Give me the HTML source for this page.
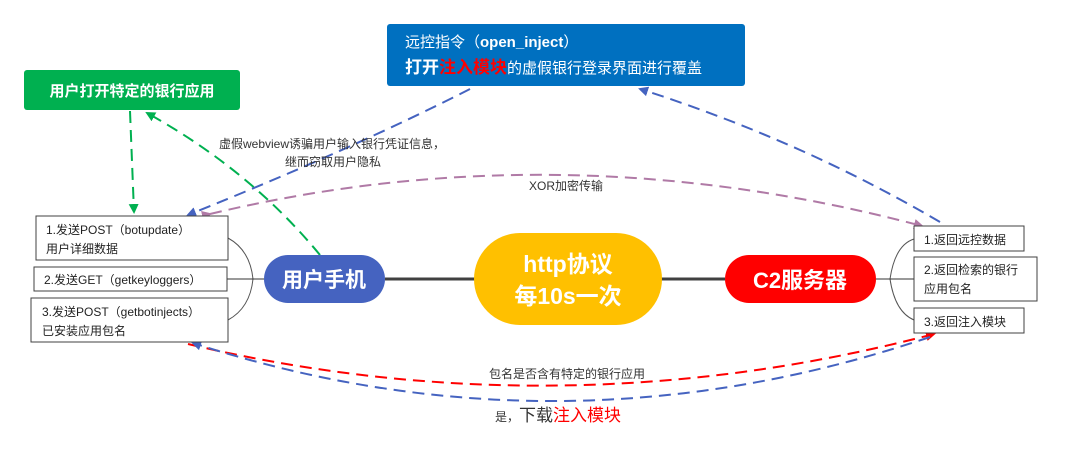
<!DOCTYPE html>
<html><head><meta charset="utf-8"><style>
body{margin:0;width:1072px;height:449px;background:#fff;overflow:hidden;font-family:"Liberation Sans","Noto Sans CJK SC",sans-serif}
</style></head><body>
<svg width="1072" height="449" xmlns="http://www.w3.org/2000/svg" font-family="Liberation Sans, Noto Sans CJK SC, sans-serif">
<defs>
<marker id="ag" markerWidth="10" markerHeight="10" refX="8" refY="5" orient="auto" markerUnits="userSpaceOnUse"><path d="M0,0 L10,5 L0,10 z" fill="#00b050"/></marker>
<marker id="ab" markerWidth="10" markerHeight="10" refX="8" refY="5" orient="auto" markerUnits="userSpaceOnUse"><path d="M0,0 L10,5 L0,10 z" fill="#4563c0"/></marker>
<marker id="ap" markerWidth="10" markerHeight="10" refX="8" refY="5" orient="auto" markerUnits="userSpaceOnUse"><path d="M0,0 L10,5 L0,10 z" fill="#b07aa6"/></marker>
<marker id="ar" markerWidth="10" markerHeight="10" refX="8" refY="5" orient="auto" markerUnits="userSpaceOnUse"><path d="M0,0 L10,5 L0,10 z" fill="#ff0000"/></marker>
</defs>
<line x1="385" y1="279" x2="725" y2="279" stroke="#404040" stroke-width="3"/>
<path d="M228,238 Q250,250 253,279 Q250,308 228,320" fill="none" stroke="#555" stroke-width="1"/>
<line x1="227" y1="279" x2="264" y2="279" stroke="#333" stroke-width="1"/>
<path d="M914,239 Q895,245 890,279 Q895,312 914,320" fill="none" stroke="#555" stroke-width="1"/>
<line x1="876" y1="279" x2="914" y2="279" stroke="#333" stroke-width="1"/>
<g fill="none" stroke-width="2" stroke-dasharray="12,7">
<path d="M130,111 L134,212" stroke="#00b050" marker-end="url(#ag)"/>
<path d="M320,255 Q250,170 147,113" stroke="#00b050" marker-end="url(#ag)"/>
<path d="M470,89 Q350,150 188,215" stroke="#4563c0" marker-end="url(#ab)"/>
<path d="M940,222 Q800,140 640,89" stroke="#4563c0" marker-end="url(#ab)"/>
<path d="M210,214 Q560,130 922,226" stroke="#b07aa6" marker-end="url(#ap)" marker-start="url(#ap)"/>
<path d="M188,344 Q560,432 934,334" stroke="#ff0000" marker-end="url(#ar)"/>
<path d="M930,337 Q560,462 193,343" stroke="#4563c0" marker-end="url(#ab)"/>
</g>
<rect x="24" y="70" width="216" height="40" rx="3" fill="#00b050"/>
<text x="132" y="96" font-size="15" font-weight="bold" fill="#fff" text-anchor="middle">用户打开特定的银行应用</text>
<rect x="387" y="24" width="358" height="62" rx="3" fill="#0070c0"/>
<text x="405" y="47" font-size="15" fill="#fff">远控指令（<tspan font-weight="bold">open_inject</tspan>）</text>
<text x="405" y="73" font-size="17" font-weight="bold" fill="#fff">打开<tspan fill="#ff0000">注入模块</tspan><tspan font-weight="normal" font-size="15">的虚假银行登录界面进行覆盖</tspan></text>
<text x="332" y="148" font-size="12" fill="#333" text-anchor="middle">虚假webview诱骗用户输入银行凭证信息，</text>
<text x="333" y="166" font-size="12" fill="#333" text-anchor="middle">继而窃取用户隐私</text>
<text x="566" y="190" font-size="12" fill="#333" text-anchor="middle">XOR加密传输</text>
<text x="567" y="378" font-size="12" fill="#333" text-anchor="middle">包名是否含有特定的银行应用</text>
<text x="495" y="421" font-size="12" fill="#333">是，<tspan font-size="17">下载</tspan><tspan font-size="17" fill="#ff0000">注入模块</tspan></text>
<g fill="#fff" stroke="#404040" stroke-width="1">
<rect x="36" y="216" width="192" height="44"/>
<rect x="34" y="267" width="193" height="24"/>
<rect x="31" y="298" width="197" height="44"/>
<rect x="914" y="226" width="110" height="25"/>
<rect x="914" y="257" width="123" height="44"/>
<rect x="914" y="308" width="110" height="25"/>
</g>
<g font-size="12" fill="#222">
<text x="46" y="234">1.发送POST（botupdate）</text>
<text x="46" y="253">用户详细数据</text>
<text x="44" y="284">2.发送GET（getkeyloggers）</text>
<text x="42" y="316">3.发送POST（getbotinjects）</text>
<text x="42" y="335">已安装应用包名</text>
<text x="924" y="244">1.返回远控数据</text>
<text x="924" y="274">2.返回检索的银行</text>
<text x="924" y="293">应用包名</text>
<text x="924" y="326">3.返回注入模块</text>
</g>
<rect x="264" y="255" width="121" height="48" rx="24" fill="#4563c0"/>
<text x="324" y="287" font-size="21" font-weight="bold" fill="#fff" text-anchor="middle">用户手机</text>
<rect x="474" y="233" width="188" height="92" rx="46" fill="#ffc000"/>
<text x="568" y="272" font-size="23" font-weight="bold" fill="#fff" text-anchor="middle">http协议</text>
<text x="568" y="304" font-size="23" font-weight="bold" fill="#fff" text-anchor="middle">每10s一次</text>
<rect x="725" y="255" width="151" height="48" rx="24" fill="#ff0000"/>
<text x="800" y="288" font-size="22" font-weight="bold" fill="#fff" text-anchor="middle">C2服务器</text>
</svg>
</body></html>
